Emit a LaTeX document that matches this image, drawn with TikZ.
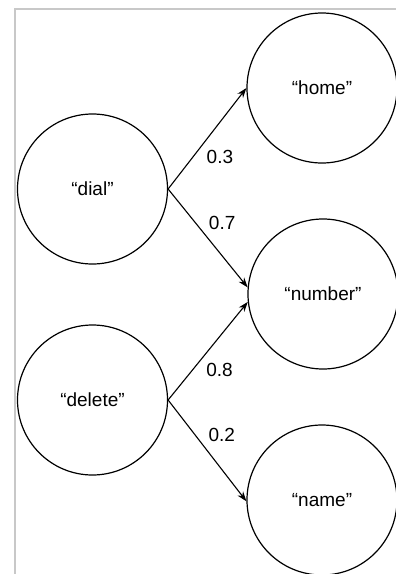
\documentclass[tikz,border=0pt]{standalone}
\usepackage{fontspec}
\setmainfont{Liberation Sans}
\usetikzlibrary{arrows.meta}
\definecolor{framegray}{RGB}{200,200,200}
\begin{document}
\begin{tikzpicture}[x=1pt,y=-1pt,
  state/.style={circle,draw,line width=1.2pt,minimum size=150pt,inner sep=0pt,font=\fontsize{19}{22}\selectfont},
  arr/.style={-{Stealth[length=10pt,width=7pt]},line width=1.1pt},
  prob/.style={font=\fontsize{19}{22}\selectfont,anchor=west,xshift=12pt,inner sep=1pt},
  frameline/.style={draw=framegray,line width=2pt}]
\useasboundingbox (0,0) rectangle (396,574);
\clip (0,0) rectangle (396,574);
\fill[white] (0,0) rectangle (396,574);
\draw[frameline] (15,9) rectangle (440,640);
\node[state] (dial) at (92.5,189) {“dial”};
\node[state] (home) at (322,88) {“home”};
\node[state] (number) at (323,294) {“number”};
\node[state] (delete) at (92.5,400) {“delete”};
\node[state] (name) at (322,500) {“name”};
\draw[arr] (dial.east) -- node[prob,pos=0.32] {0.3} (home.west);
\draw[arr] (dial.east) -- node[prob,pos=0.343] {0.7} (number.175);
\draw[arr] (delete.east) -- node[prob,pos=0.31] {0.8} (number.186);
\draw[arr] (delete.east) -- node[prob,pos=0.343] {0.2} (name.181);
\end{tikzpicture}
\end{document}
